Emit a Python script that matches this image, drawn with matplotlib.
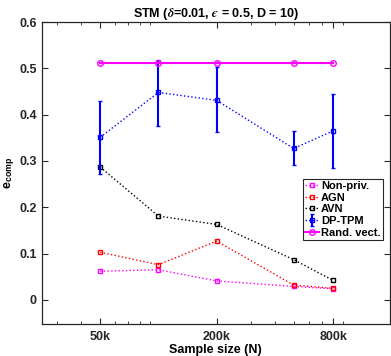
import numpy as np
import matplotlib
matplotlib.use("Agg")
import matplotlib.pyplot as plt
from matplotlib.ticker import FixedLocator, NullFormatter, LogLocator

sample_sizes = [50e3, 100e3, 200e3, 500e3, 800e3]
tick_values = [50e3, 200e3, 800e3]
tick_labels = ["50k", "200k", "800k"]

non_priv = [0.062, 0.065, 0.041, 0.029, 0.024]
agn = [0.103, 0.076, 0.127, 0.032, 0.025]
avn = [0.287, 0.181, 0.163, 0.087, 0.042]
dp_tpm = [0.351, 0.448, 0.431, 0.327, 0.365]
dp_tpm_low = [0.272, 0.376, 0.362, 0.291, 0.285]
dp_tpm_high = [0.430, 0.518, 0.503, 0.364, 0.445]
rand_vect = [0.512, 0.512, 0.512, 0.512, 0.512]

plt.rcParams['font.family'] = ['Liberation Sans', 'DejaVu Sans']
plt.rcParams['font.weight'] = 'bold'
plt.rcParams['mathtext.fontset'] = 'custom'
plt.rcParams['mathtext.rm'] = 'Liberation Sans:bold'
plt.rcParams['mathtext.it'] = 'STIXGeneral:italic'
plt.rcParams['mathtext.fallback'] = 'stix'

fig = plt.figure(figsize=(3.91, 3.56), dpi=100)
ax = fig.add_axes([0.107, 0.09, 0.89, 0.848])

h1, = ax.plot(sample_sizes, non_priv, ':', color='#ff00ff', marker='s', ms=3.5,
              mfc='none', mew=1, lw=1, label='Non-priv.')
h2, = ax.plot(sample_sizes, agn, ':', color='#ff0000', marker='s', ms=3.5,
              mfc='none', mew=1, lw=1, label='AGN')
h3, = ax.plot(sample_sizes, avn, ':', color='black', marker='s', ms=3.5,
              mfc='none', mew=1, lw=1, label='AVN')
err = [np.array(dp_tpm) - np.array(dp_tpm_low), np.array(dp_tpm_high) - np.array(dp_tpm)]
h4 = ax.errorbar(sample_sizes, dp_tpm, yerr=err, fmt=':', color='#0000ff', marker='s',
                 ms=3.5, mfc='none', mew=1, lw=1, elinewidth=1.5, capsize=1.5,
                 label='DP-TPM')
h5, = ax.plot(sample_sizes, rand_vect, '-', color='#ff00ff', marker='o', ms=4,
              mfc='none', mew=1, lw=1.5, label='Rand. vect.')

ax.set_xscale('log')
ax.set_xlim(25e3, 1.57e6)
ax.set_ylim(-0.052, 0.6)
ax.xaxis.set_major_locator(FixedLocator(tick_values))
ax.set_xticklabels(tick_labels)
ax.xaxis.set_minor_locator(LogLocator(subs=np.arange(2, 10)))
ax.xaxis.set_minor_formatter(NullFormatter())
ax.set_yticks([0, 0.1, 0.2, 0.3, 0.4, 0.5, 0.6])
ax.set_yticklabels(["0", "0.1", "0.2", "0.3", "0.4", "0.5", "0.6"])

ax.tick_params(which='both', direction='in', top=True, right=True,
               labelsize=9, colors='#262626')
ax.tick_params(which='major', length=4, width=0.8)
ax.tick_params(which='minor', length=2, width=0.6)
ax.tick_params(axis='x', pad=5)
for s in ax.spines.values():
    s.set_color('#262626')
    s.set_linewidth(0.9)

ax.set_title("STM ($\u03b4$=0.01, $\u03f5$ = 0.5, D = 10)", fontsize=9,
             fontweight='bold', pad=4)
ax.set_xlabel("Sample size (N)", fontsize=9, fontweight='bold', labelpad=1)
ax.set_ylabel(r"e$_{\mathrm{comp}}$", fontsize=9, fontweight='bold', labelpad=2)

leg = ax.legend([h1, h2, h3, h4, h5],
                ['Non-priv.', 'AGN', 'AVN', 'DP-TPM', 'Rand. vect.'],
                loc='center right', bbox_to_anchor=(0.98, 0.38), fontsize=8,
                handlelength=1.2, handletextpad=0.2, borderpad=0.2,
                labelspacing=0.15, borderaxespad=0, fancybox=False, framealpha=1)
leg.get_frame().set_edgecolor('#262626')
leg.get_frame().set_linewidth(0.8)

fig.savefig("out.png", dpi=100)
